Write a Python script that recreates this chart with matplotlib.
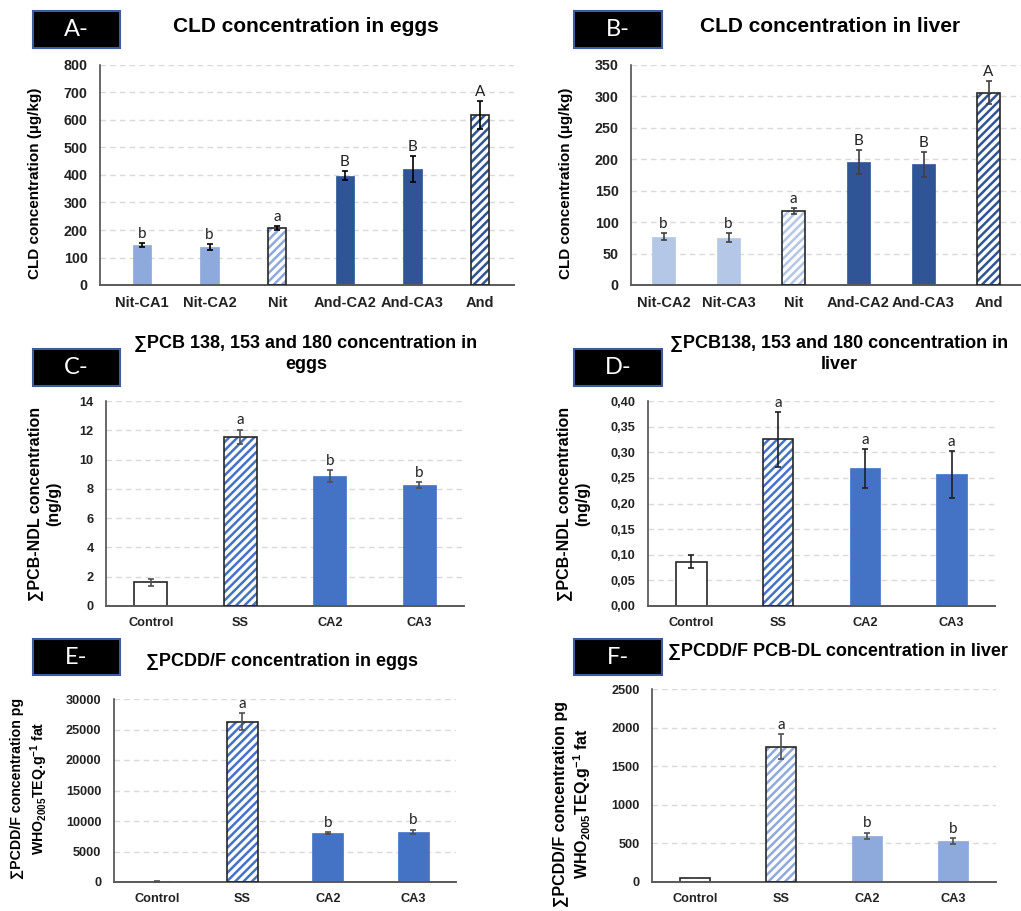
import matplotlib
matplotlib.use("Agg")
import matplotlib.pyplot as plt
from matplotlib.patches import Rectangle
import numpy as np

plt.rcParams['font.family'] = ['Liberation Sans', 'DejaVu Sans']
plt.rcParams['mathtext.fontset'] = 'custom'
plt.rcParams['mathtext.rm'] = 'Liberation Sans'
plt.rcParams['mathtext.bf'] = 'Liberation Sans:bold'
plt.rcParams['hatch.linewidth'] = 1.8

# ---------------- data ----------------
cats_A = ["Nit-CA1", "Nit-CA2", "Nit", "And-CA2", "And-CA3", "And"]
vals_A = [145, 138, 206, 397, 422, 617]
errs_A = [7, 12, 7, 17, 48, 51]
lets_A = ["b", "b", "a", "B", "B", "A"]

cats_B = ["Nit-CA2", "Nit-CA3", "Nit", "And-CA2", "And-CA3", "And"]
vals_B = [77, 75, 118, 196, 192, 306]
errs_B = [6, 7, 4.5, 19, 20, 18]
lets_B = ["b", "b", "a", "B", "B", "A"]

cats_C = ["Control", "SS", "CA2", "CA3"]
vals_C = [1.62, 11.57, 8.88, 8.27]
errs_C = [0.22, 0.48, 0.43, 0.18]
lets_C = ["", "a", "b", "b"]

cats_D = ["Control", "SS", "CA2", "CA3"]
vals_D = [0.0865, 0.325, 0.269, 0.257]
errs_D = [0.0125, 0.053, 0.038, 0.046]
lets_D = ["", "a", "a", "a"]

cats_E = ["Control", "SS", "CA2", "CA3"]
vals_E = [80, 26300, 8050, 8270]
errs_E = [30, 1370, 200, 330]
lets_E = ["", "a", "b", "b"]

cats_F = ["Control", "SS", "CA2", "CA3"]
vals_F = [52, 1755, 598, 533]
errs_F = [6, 167, 43, 39]
lets_F = ["", "a", "b", "b"]

W, H = 1021, 911
fig = plt.figure(figsize=(W / 100, H / 100), dpi=100)

LIGHT = '#8EA9DB'
LIGHTER = '#B4C7E7'
DARK = '#2F5597'
MID = '#4472C4'
EDGE = '#262626'

def ax_at(l, r, t, b):
    return fig.add_axes([l / W, 1 - b / H, (r - l) / W, (b - t) / H])

def draw_panel(ax, cats, vals, errs, lets, styles, width, ylim, yticks,
               tick_fs, xtick_fs, ecolor, xlim, ylabels=None, letter_fs=11):
    x = np.arange(len(cats))
    for i, (v, st) in enumerate(zip(vals, styles)):
        kind, col = st
        if kind == 'solid':
            ax.bar(x[i], v, width, color=col, edgecolor=col, linewidth=0.5, zorder=2)
        elif kind == 'white':
            ax.bar(x[i], v, width, color='white', edgecolor=EDGE, linewidth=1.2, zorder=2)
        else:
            ax.bar(x[i], v, width, color='white', edgecolor=col, linewidth=0,
                   hatch='////', zorder=2)
            ax.bar(x[i], v, width, color='none', edgecolor=EDGE, linewidth=1.2, zorder=3)
    ax.errorbar(x, vals, yerr=errs, fmt='none', ecolor=ecolor, elinewidth=1.2,
                capsize=2.5, capthick=1.2, zorder=4)
    for i, (v, e, l) in enumerate(zip(vals, errs, lets)):
        if l:
            ax.annotate(l, (x[i], v + e), xytext=(0, 1.5), textcoords='offset points',
                        ha='center', va='bottom', fontsize=letter_fs,
                        family=['Lato', 'DejaVu Sans'], color='#222222')
    ax.set_xlim(*xlim)
    ax.set_ylim(*ylim)
    ax.set_yticks(yticks)
    if ylabels is not None:
        ax.set_yticklabels(ylabels)
    ax.set_xticks(x)
    ax.set_xticklabels(cats)
    for lab in ax.get_yticklabels():
        lab.set_fontweight('bold'); lab.set_fontsize(tick_fs); lab.set_color('#222222')
    for lab in ax.get_xticklabels():
        lab.set_fontweight('bold'); lab.set_fontsize(xtick_fs); lab.set_color('#222222')
    ax.tick_params(axis='both', length=0)
    ax.tick_params(axis='y', pad=9)
    ax.tick_params(axis='x', pad=8)
    for s in ['top', 'right']:
        ax.spines[s].set_visible(False)
    ax.spines['left'].set_color('#404040')
    ax.spines['bottom'].set_color('#595959')
    ax.spines['left'].set_linewidth(1.1)
    ax.spines['bottom'].set_linewidth(1.4)
    ax.yaxis.grid(True, linestyle=(0, (4, 3)), color='#D9D9D9', linewidth=1.0, zorder=0)
    ax.set_axisbelow(True)
    ax.set_facecolor('none')

def label_box(l, r, t, b, txt):
    fig.patches.append(Rectangle((l / W, 1 - b / H), (r - l) / W, (b - t) / H,
                                 transform=fig.transFigure, facecolor='black',
                                 edgecolor='#3B5C9E', linewidth=1.5))
    fig.text((l + r) / 2 / W, 1 - (t + b) / 2 / H, txt, color='white',
             ha='center', va='center', fontsize=17, family=['Lato', 'DejaVu Sans'])

def ftext(x, y, s, **kw):
    fig.text(x / W, 1 - y / H, s, **kw)

# ---------------- Panel A ----------------
axA = ax_at(100, 514, 65, 285)
draw_panel(axA, cats_A, vals_A, errs_A, lets_A,
           [('solid', LIGHT), ('solid', LIGHT), ('hatch', LIGHT),
            ('solid', DARK), ('solid', DARK), ('hatch', DARK)],
           0.27, (0, 800), np.arange(0, 801, 100), 10.3, 10.5, 'black', (-0.62, 5.5))
label_box(33, 120, 11, 48, "A-")
ftext(306, 27, "CLD concentration in eggs", ha='center', va='center',
      fontsize=15, fontweight='bold')
ftext(35, 183, "CLD concentration (µg/kg)", ha='center', va='center',
      rotation=90, fontsize=11, fontweight='bold')

# ---------------- Panel B ----------------
axB = ax_at(631, 1021, 65, 285)
draw_panel(axB, cats_B, vals_B, errs_B, lets_B,
           [('solid', LIGHTER), ('solid', LIGHTER), ('hatch', LIGHTER),
            ('solid', DARK), ('solid', DARK), ('hatch', DARK)],
           0.35, (0, 350), np.arange(0, 351, 50), 10.3, 10.5, '#404040', (-0.5, 5.5))
label_box(574, 662, 11, 48, "B-")
ftext(830, 27, "CLD concentration in liver", ha='center', va='center',
      fontsize=15, fontweight='bold')
ftext(566, 183, "CLD concentration (µg/kg)", ha='center', va='center',
      rotation=90, fontsize=11, fontweight='bold')

# ---------------- Panel C ----------------
axC = ax_at(106, 464, 401, 606)
draw_panel(axC, cats_C, vals_C, errs_C, lets_C,
           [('white', None), ('hatch', MID), ('solid', MID), ('solid', MID)],
           0.37, (0, 14), np.arange(0, 15, 2), 9.2, 9.2, '#505050', (-0.5, 3.5))
label_box(33, 120, 349, 386, "C-")
ftext(306, 354, "∑PCB 138, 153 and 180 concentration in\neggs", ha='center',
      va='center', fontsize=13, fontweight='bold', linespacing=1.3)
ftext(44, 504, "∑PCB-NDL concentration\n(ng/g)", ha='center', va='center',
      rotation=90, fontsize=11.5, fontweight='bold', linespacing=1.25)

# ---------------- Panel D ----------------
axD = ax_at(648, 995, 401, 606)
yD = np.round(np.arange(0, 0.401, 0.05), 2)
draw_panel(axD, cats_D, vals_D, errs_D, lets_D,
           [('white', None), ('hatch', MID), ('solid', MID), ('solid', MID)],
           0.35, (0, 0.40), yD, 9.2, 9.2, '#202020', (-0.5, 3.5),
           ylabels=[f"{v:.2f}".replace('.', ',') for v in yD])
label_box(574, 662, 349, 386, "D-")
ftext(839, 354, "∑PCB138, 153 and 180 concentration in\nliver", ha='center',
      va='center', fontsize=13, fontweight='bold', linespacing=1.3)
ftext(573, 504, "∑PCB-NDL concentration\n(ng/g)", ha='center', va='center',
      rotation=90, fontsize=11.5, fontweight='bold', linespacing=1.25)

# ---------------- Panel E ----------------
axE = ax_at(114, 456, 699, 882)
draw_panel(axE, cats_E, vals_E, errs_E, lets_E,
           [('white', None), ('hatch', MID), ('solid', MID), ('solid', MID)],
           0.36, (0, 30000), np.arange(0, 30001, 5000), 9.2, 9.2, '#505050', (-0.5, 3.5))
label_box(33, 120, 639, 675, "E-")
ftext(282, 662, "∑PCDD/F concentration in eggs", ha='center', va='center',
      fontsize=13, fontweight='bold')
ftext(30, 788, "∑PCDD/F concentration pg\nWHO$_{\\mathbf{2005}}$TEQ.g$^{\\mathbf{-1}}$ fat",
      ha='center', va='center', rotation=90, fontsize=10.2, fontweight='bold',
      linespacing=1.3)

# ---------------- Panel F ----------------
axF = ax_at(652, 996, 689, 882)
draw_panel(axF, cats_F, vals_F, errs_F, lets_F,
           [('white', None), ('hatch', LIGHT), ('solid', LIGHT), ('solid', LIGHT)],
           0.36, (0, 2500), np.arange(0, 2501, 500), 9.2, 9.2, '#505050', (-0.5, 3.5))
label_box(574, 662, 639, 675, "F-")
ftext(838, 652, "∑PCDD/F PCB-DL concentration in liver", ha='center', va='center',
      fontsize=13, fontweight='bold')
ftext(573, 804, "∑PCDD/F concentration pg\nWHO$_{\\mathbf{2005}}$TEQ.g$^{\\mathbf{-1}}$ fat",
      ha='center', va='center', rotation=90, fontsize=11.5, fontweight='bold',
      linespacing=1.2)

fig.savefig("out.png", dpi=100, facecolor='white')
